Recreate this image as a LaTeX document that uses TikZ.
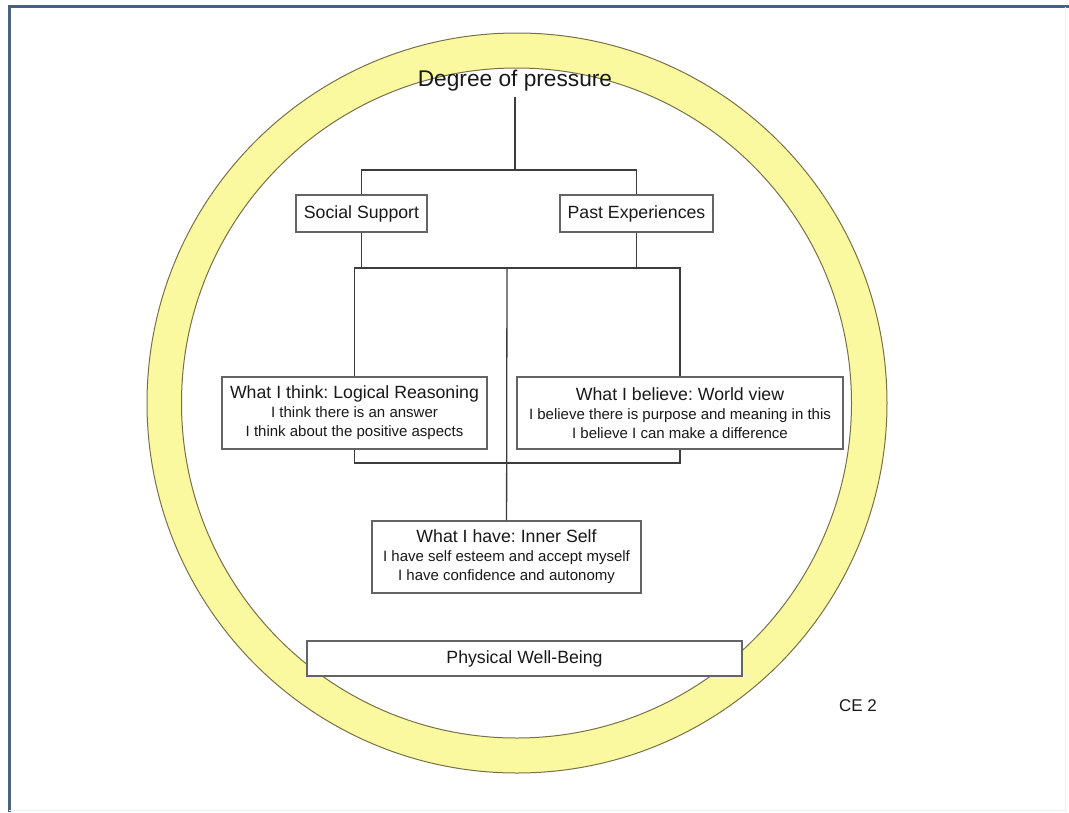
\documentclass[tikz,border=0pt]{standalone}
\usepackage{fontspec}
\setmainfont{Liberation Sans}
\frenchspacing
\definecolor{ringfill}{RGB}{251,249,160}
\definecolor{ringline}{RGB}{120,112,70}
\definecolor{framec}{RGB}{74,96,128}
\definecolor{framelight}{RGB}{230,242,248}
\definecolor{boxline}{RGB}{100,100,100}
\definecolor{ink}{RGB}{25,25,25}
\newcommand{\boxtitle}{\fontsize{17.7}{19}\selectfont}

\begin{document}
\begin{tikzpicture}[x=1pt,y=-1pt,
  box/.style={draw=boxline, line width=1.3pt, fill=white, inner sep=0pt,
    align=center, text=ink, font=\fontsize{15}{19}\selectfont},
  conn/.style={draw=ink!85, line width=1.3pt}]
\useasboundingbox (0,0) rectangle (1069,812);
% frame
\draw[framec, line width=3pt] (9,812) -- (9,6) -- (1069,6);
\draw[framelight, line width=1pt] (1065,7) -- (1065,810) -- (9,810);
% ring
\filldraw[fill=ringfill, draw=ringline, line width=1pt, even odd rule]
  (517,403) circle[radius=370pt] (516.5,403) circle[radius=335pt];

\node[anchor=base, text=ink, font=\fontsize{22.7}{24}\selectfont, inner sep=6pt] (deg) at (515,86) {Degree of pressure};
\node[box, minimum width=131, minimum height=37, font=\boxtitle] (social) at (361.5,213.5) {Social Support};
\node[box, minimum width=153, minimum height=37, font=\boxtitle] (past) at (636.5,213.5) {Past Experiences};
\node[box, minimum width=265, minimum height=72] (think) at (354.5,413)
  {{\boxtitle What I think: Logical Reasoning}\\I think there is an answer\\I think about the positive aspects};
\node[box, minimum width=326, minimum height=72] (believe) at (680,413)
  {{\boxtitle What I believe: World view}\\I believe there is purpose and meaning in this\\I believe I can make a difference};
\node[box, minimum width=269, minimum height=72] (inner) at (506.5,557)
  {{\boxtitle What I have: Inner Self}\\I have self esteem and accept myself\\I have confidence and autonomy};
\node[box, minimum width=435, minimum height=35, font=\boxtitle] (physical) at (524.5,658.5) {Physical Well-Being};
\node[anchor=base, text=ink, font=\fontsize{17}{19}\selectfont] (ce) at (858,711) {CE 2};

\coordinate (split) at (515,170);
\coordinate (hub) at (507,268);
\coordinate (low) at (507,463);

% connectors
\draw[conn] (deg) -- (split);
\draw[conn] (social) |- (split) -| (past);
\draw[conn] (social) -- (social |- hub);
\draw[conn] (past) -- (past |- hub);
\draw[conn] (think) |- (hub) -| (believe);
\draw[conn] (think) |- (low) -| (believe);
\draw[conn] (hub) -- (inner);

\end{tikzpicture}
\end{document}
